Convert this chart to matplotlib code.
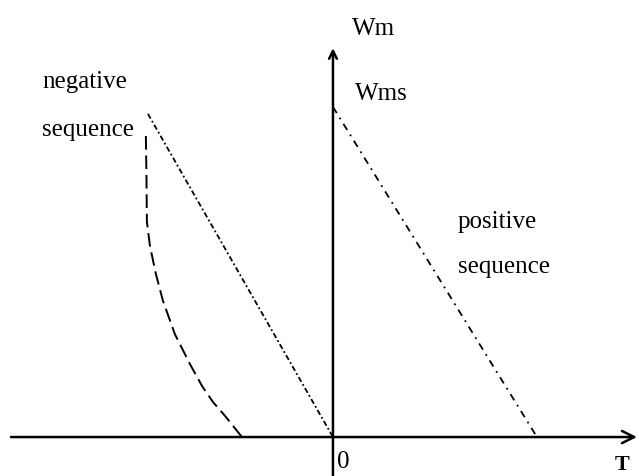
import numpy as np
import matplotlib
matplotlib.use("Agg")
import matplotlib.pyplot as plt

# characteristic Wm(T) : positive / negative sequence
# T normalised so the positive sequence line cuts the axis at 1, Wm normalised to Wms = 1
pos_T = [0.0, 1.0]
pos_W = [1.0, 0.0]

neg_T = [-0.907, 0.0]
neg_W = [0.979, 0.0]

# curved (dashed) branch of the negative sequence
curve_T = [-0.917, -0.914, -0.912, -0.897, -0.868, -0.833, -0.775,
           -0.701, -0.642, -0.588, -0.529, -0.446]
curve_W = [0.912, 0.782, 0.652, 0.579, 0.494, 0.412, 0.312,
           0.221, 0.155, 0.106, 0.064, 0.0]

fig = plt.figure(figsize=(6.39, 4.77), dpi=100)
ax = fig.add_axes([0, 0, 1, 1])
ax.set_xlim(-1.632, 1.5)
ax.set_ylim(-0.118, 1.327)
ax.axis("off")

# axes with arrows
ax.annotate("", xy=(1.49, 0), xytext=(-1.578, 0),
            arrowprops=dict(arrowstyle="->", lw=1.8, color="black",
                            mutation_scale=22, shrinkA=0, shrinkB=0),
            annotation_clip=False)
ax.annotate("", xy=(0, 1.178), xytext=(0, -0.118),
            arrowprops=dict(arrowstyle="->", lw=1.8, color="black",
                            mutation_scale=14, shrinkA=0, shrinkB=0),
            annotation_clip=False)

ax.plot(pos_T, pos_W, color="black", lw=1.3, linestyle=(0, (4, 3, 1, 3)))
ax.plot(neg_T, neg_W, color="black", lw=1.3, linestyle=(0, (3, 1.5, 1, 1.5)))
ax.plot(curve_T, curve_W, color="black", lw=1.4, linestyle=(0, (7, 3)))

txt = dict(family="Liberation Serif", fontsize=18, color="black", va="baseline")
ax.text(-1.426, 1.061, "negative", **txt)
ax.text(-1.426, 0.915, "sequence", **txt)
ax.text(0.093, 1.221, "Wm", **txt)
ax.text(0.108, 1.024, "Wms", **txt)
ax.text(0.613, 0.636, "positive", **txt)
ax.text(0.613, 0.500, "sequence", **txt)
ax.text(0.02, -0.091, "0", **txt)
ax.text(1.382, -0.112, "T", family="Liberation Serif", fontsize=16,
        fontweight="bold", color="black", va="bottom")

fig.savefig("out.png", dpi=100)
